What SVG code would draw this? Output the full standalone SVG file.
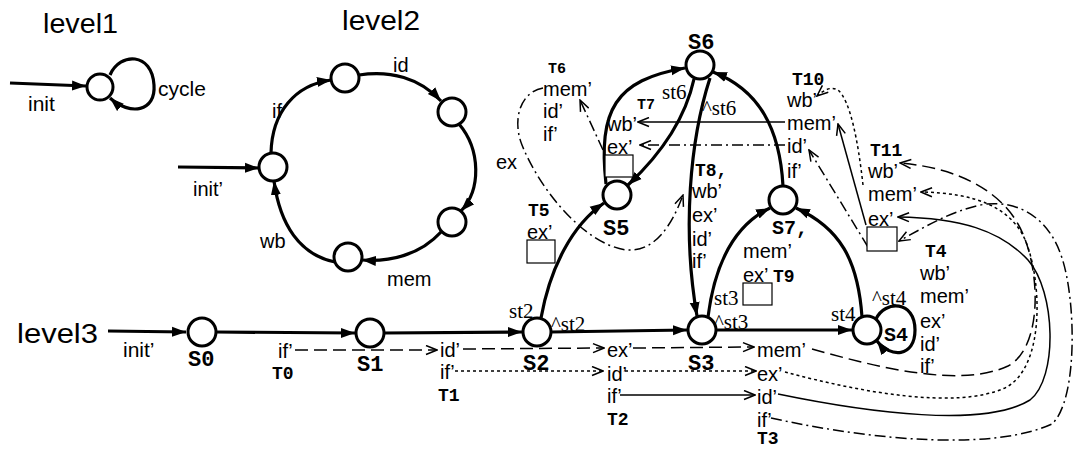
<svg xmlns="http://www.w3.org/2000/svg" width="1082" height="449" viewBox="0 0 1082 449">
<style>
.st{fill:#fff;stroke:#000;stroke-width:3}
.e{fill:none;stroke:#000;stroke-width:3.2}
.t{fill:none;stroke:#000;stroke-width:1.5}
.dash{stroke-dasharray:13,6}
.dot{stroke-dasharray:3,3}
.dd{stroke-dasharray:11,4,2,4}
.box{fill:#fff;stroke:#000;stroke-width:1.2}
.lv{font-family:"Liberation Sans",Arial,sans-serif;font-size:27px}
.l{font-family:"Liberation Sans",Arial,sans-serif;font-size:20px}
.s{font-family:"Liberation Mono","Courier New",monospace;font-weight:bold;font-size:22px}
.tt{font-family:"Liberation Mono","Courier New",monospace;font-weight:bold;font-size:18px}
.ts{font-family:"Liberation Mono","Courier New",monospace;font-weight:bold;font-size:15px}
.r{font-family:"Liberation Serif","Times New Roman",serif;font-size:21px}
</style>
<defs>
<marker id="ah" markerUnits="userSpaceOnUse" markerWidth="16" markerHeight="12" refX="14" refY="6" orient="auto"><path d="M0,1 L14,6 L0,11 Z" fill="#000"/></marker>
<marker id="oa" markerUnits="userSpaceOnUse" markerWidth="13" markerHeight="11" refX="12" refY="5.5" orient="auto"><path d="M1,1 L12,5.5 L1,10" fill="none" stroke="#000" stroke-width="1.5"/></marker>
</defs>

<!-- level titles -->
<text class="lv" x="43" y="33" textLength="75" lengthAdjust="spacingAndGlyphs">level1</text>
<text class="lv" x="342" y="30" textLength="78" lengthAdjust="spacingAndGlyphs">level2</text>
<text class="lv" x="17" y="343" textLength="81" lengthAdjust="spacingAndGlyphs">level3</text>

<g id="connectors">
<!-- level1 -->
<path class="e" d="M10,83 L86,86" marker-end="url(#ah)"/>
<path class="e" d="M110,75 C120,52 152,52 154,85 C156,112 130,116 110,98" marker-end="url(#ah)"/>
<!-- level2 -->
<path class="e" d="M178,167 L259,168" marker-end="url(#ah)"/>
<path class="e" d="M271,153 C272,112 295,85 331,80" marker-end="url(#ah)"/>
<path class="e" d="M359,75 C390,70 420,78 441,101" marker-end="url(#ah)"/>
<path class="e" d="M459,124 C481,150 481,190 461,211" marker-end="url(#ah)"/>
<path class="e" d="M441,232 C420,255 390,262 362,260" marker-end="url(#ah)"/>
<path class="e" d="M335,262 C300,255 280,225 274,181" marker-end="url(#ah)"/>
<!-- level3 state edges -->
<path class="e" d="M108,331 L186,332" marker-end="url(#ah)"/>
<path class="e" d="M216,332 L355,333" marker-end="url(#ah)"/>
<path class="e" d="M384,333 L522,332" marker-end="url(#ah)"/>
<path class="e" d="M551,332 L687,330" marker-end="url(#ah)"/>
<path class="e" d="M716,330 L852,330" marker-end="url(#ah)"/>
<path class="e" d="M541,318 C550,268 572,225 604,203" marker-end="url(#ah)"/>
<path class="e" d="M606,184 C598,110 615,80 685,68" marker-end="url(#ah)"/>
<path class="e" d="M694,79 C685,120 660,155 628,185" marker-end="url(#ah)"/>
<path class="e" d="M710,78 C690,140 682,230 697,316" marker-end="url(#ah)"/>
<path class="e" d="M708,317 C715,262 735,225 770,208" marker-end="url(#ah)"/>
<path class="e" d="M862,317 C858,260 840,228 796,208" marker-end="url(#ah)"/>
<path class="e" d="M783,186 C780,130 760,90 713,72" marker-end="url(#ah)"/>
<path class="e" d="M876,319 C885,300 915,300 915,330 C915,358 890,358 877,341" marker-end="url(#ah)"/>
<!-- T0 dashed -->
<path class="t dash" d="M295,350 L437,350" marker-end="url(#oa)"/>
<path class="t dash" d="M463,349 L604,348" marker-end="url(#oa)"/>
<path class="t dash" d="M633,348 L754,347" marker-end="url(#oa)"/>
<path class="t dash" d="M812,349 C880,368 960,388 1008,366 C1045,346 1040,262 1018,224 C1000,192 960,168 900,163" marker-end="url(#oa)"/>
<!-- T1 dotted -->
<path class="t dot" d="M455,371 L603,371" marker-end="url(#oa)"/>
<path class="t dot" d="M625,371 L756,371" marker-end="url(#oa)"/>
<path class="t dot" d="M785,372 C860,392 955,410 1005,388 C1045,368 1042,282 1026,242 C1012,207 975,193 921,192" marker-end="url(#oa)"/>
<!-- T2 solid -->
<path class="t" d="M620,395 L755,395" marker-end="url(#oa)"/>
<path class="t" d="M778,394 C870,413 985,428 1030,400 C1058,378 1056,292 1028,260 C1000,230 960,218 898,217" marker-end="url(#oa)"/>
<!-- T3 dash-dot -->
<path class="t dd" d="M771,418 C880,442 995,450 1052,424 C1078,400 1076,300 1062,258 C1050,220 1020,198 980,205 C950,212 928,225 899,241" marker-end="url(#oa)"/>
<!-- T6/T7/T8 -->
<path class="t dd" d="M543,88 C520,92 512,120 522,145 C540,190 585,245 627,250 C655,252 672,225 683,195" marker-end="url(#oa)"/>
<path class="t dd" d="M603,150 L580,100" marker-end="url(#oa)"/>
<path class="t" d="M785,122 L638,122" marker-end="url(#oa)"/>
<path class="t dd" d="M785,145 L640,145" marker-end="url(#oa)"/>
<!-- T10/T11 -->
<path class="t dot" d="M863,185 C858,140 850,100 838,90 C831,86 824,90 817,96" marker-end="url(#oa)"/>
<path class="t" d="M866,225 L838,124" marker-end="url(#oa)"/>
<path class="t dd" d="M868,247 L809,150" marker-end="url(#oa)"/>
</g>

<!-- level1 node -->
<g id="L1"><circle class="st" cx="100" cy="87" r="13"/></g>
<g id="L1-labels"><text class="l" x="28" y="111" style="font-size:21px">init</text><text class="l" x="158" y="96" style="font-size:21px">cycle</text></g>

<!-- level2 nodes -->
<g id="L2a"><circle class="st" cx="273" cy="167" r="14"/></g>
<g id="L2b"><circle class="st" cx="345" cy="78" r="14"/></g>
<g id="L2c"><circle class="st" cx="452" cy="112" r="14"/></g>
<g id="L2d"><circle class="st" cx="452" cy="222" r="14"/></g>
<g id="L2e"><circle class="st" cx="348" cy="257" r="14"/></g>
<g id="L2-labels" style="font-size:21px">
<text class="l" x="193" y="196">init’</text>
<text class="l" x="272" y="118">if</text>
<text class="l" x="393" y="72">id</text>
<text class="l" x="496" y="169">ex</text>
<text class="l" x="387" y="286">mem</text>
<text class="l" x="260" y="248">wb</text>
</g>

<!-- level3 states -->
<g id="S0"><circle class="st" cx="202" cy="332" r="14"/><text class="s" x="188" y="366">S0</text></g>
<g id="S1"><circle class="st" cx="370" cy="333" r="14"/><text class="s" x="357" y="371">S1</text></g>
<g id="S2"><circle class="st" cx="537" cy="332" r="14"/><text class="s" x="523" y="370">S2</text></g>
<g id="S3"><circle class="st" cx="702" cy="330" r="14"/><text class="s" x="688" y="370">S3</text></g>
<g id="S4"><circle class="st" cx="867" cy="330" r="14"/><text class="s" x="884" y="341" style="font-size:20px">S4</text></g>
<g id="S5"><circle class="st" cx="617" cy="195" r="14"/><text class="s" x="603" y="235">S5</text></g>
<g id="S6"><circle class="st" cx="700" cy="65" r="14"/><text class="s" x="688" y="49">S6</text></g>
<g id="S7"><circle class="st" cx="783" cy="200" r="14"/><text class="s" x="772" y="234" style="font-size:20px">S7,</text></g>

<g id="L3-labels">
<text class="l" x="123" y="357" style="font-size:21px">init’</text>
<text class="r" x="509" y="318">st2</text><text class="r" x="551" y="331">^st2</text>
<text class="r" x="714" y="305">st3</text><text class="r" x="714" y="329">^st3</text>
<text class="r" x="831" y="321">st4</text><text class="r" x="872" y="305">^st4</text>
<text class="r" x="662" y="99">st6</text><text class="r" x="702" y="115">^st6</text>
</g>

<g id="T0"><text class="l" x="278" y="358">if’</text><text class="tt" x="272" y="379">T0</text>
<text class="l" x="440" y="357">id’</text><text class="l" x="607" y="357">ex’</text><text class="l" x="757" y="357">mem’</text></g>
<g id="T1"><text class="l" x="440" y="379">if’</text><text class="tt" x="438" y="401">T1</text>
<text class="l" x="607" y="381">id’</text><text class="l" x="757" y="381">ex’</text></g>
<g id="T2"><text class="l" x="607" y="403">if’</text><text class="tt" x="607" y="425">T2</text>
<text class="l" x="757" y="404">id’</text></g>
<g id="T3"><text class="l" x="757" y="427">if’</text><text class="tt" x="757" y="444">T3</text></g>
<g id="T4"><text class="tt" x="925" y="257">T4</text>
<text class="l" x="920" y="280">wb’</text><text class="l" x="920" y="303">mem’</text><text class="l" x="920" y="328">ex’</text><text class="l" x="920" y="351">id’</text><text class="l" x="920" y="373">if’</text></g>
<g id="T5"><text class="tt" x="528" y="216">T5</text><text class="l" x="527" y="239">ex’</text><rect class="box" x="527" y="240" width="28" height="23"/></g>
<g id="T6"><text class="ts" x="548" y="73">T6</text>
<text class="l" x="543" y="96">mem’</text><text class="l" x="543" y="118">id’</text><text class="l" x="543" y="141">if’</text></g>
<g id="T7"><text class="ts" x="637" y="109">T7</text>
<text class="l" x="607" y="131">wb’</text><text class="l" x="607" y="154">ex’</text><rect class="box" x="605" y="155" width="28" height="22"/></g>
<g id="T8"><text class="tt" x="695" y="176">T8,</text>
<text class="l" x="692" y="198">wb’</text><text class="l" x="692" y="222">ex’</text><text class="l" x="692" y="246">id’</text><text class="l" x="692" y="268">if’</text></g>
<g id="T9"><text class="l" x="743" y="258">mem’</text><text class="l" x="743" y="282">ex’</text><text class="tt" x="773" y="282">T9</text><rect class="box" x="743" y="283" width="29" height="22"/></g>
<g id="T10"><text class="tt" x="792" y="85">T10</text>
<text class="l" x="787" y="107">wb’</text><text class="l" x="787" y="130">mem’</text><text class="l" x="787" y="153">id’</text><text class="l" x="787" y="178">if’</text></g>
<g id="T11"><text class="tt" x="870" y="156">T11</text>
<text class="l" x="868" y="178">wb’</text><text class="l" x="868" y="201">mem’</text><text class="l" x="868" y="226">ex’</text><rect class="box" x="867" y="227" width="30" height="24"/></g>
</svg>
